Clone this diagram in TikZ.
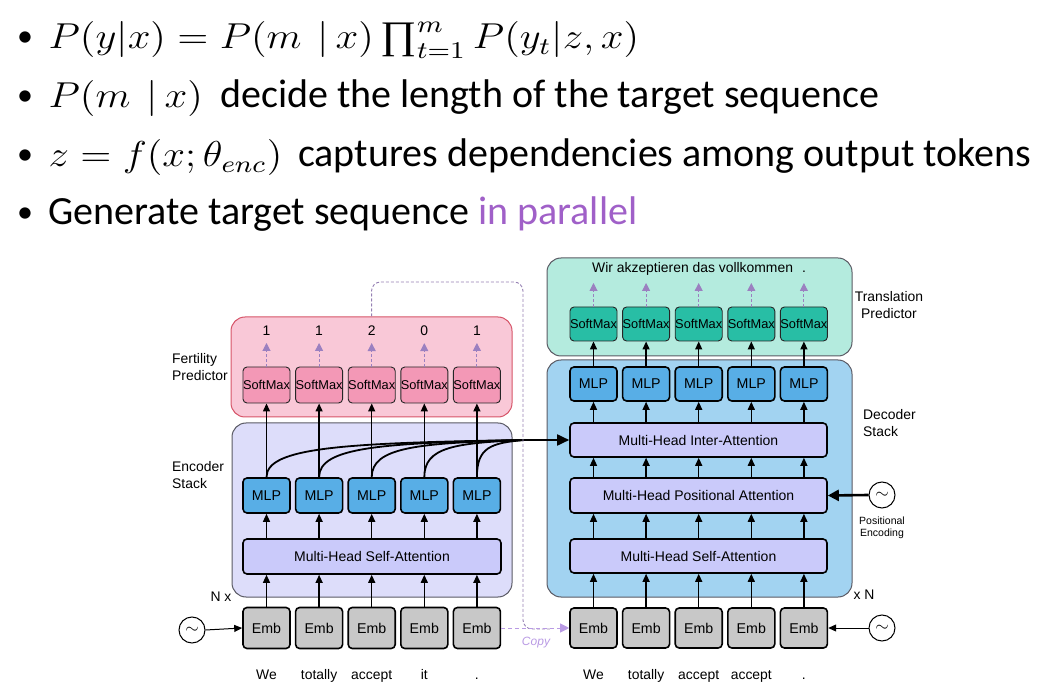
\documentclass[tikz,border=0pt]{standalone}
\usepackage{amsmath}
\usepackage{fontspec}
\setmainfont{Carlito}
\newfontfamily\diagfont{Liberation Sans}
\newfontfamily\prodfont{Liberation Serif}
\usetikzlibrary{arrows.meta,calc}
\newcommand\fsz[2][]{\fontsize{#2}{#2}\selectfont}
\newcommand\bigprod{\mathop{\text{\prodfont\fsz{13}∏}}\nolimits}
\definecolor{fertfill}{RGB}{249,200,215}
\definecolor{fertdraw}{RGB}{214,84,104}
\definecolor{smpink}{RGB}{243,152,182}
\definecolor{encfill}{RGB}{221,221,250}
\definecolor{bigdraw}{RGB}{90,90,100}
\definecolor{mlpc}{RGB}{88,174,230}
\definecolor{attnc}{RGB}{202,202,250}
\definecolor{embc}{RGB}{200,200,200}
\definecolor{transfill}{RGB}{180,235,222}
\definecolor{smteal}{RGB}{40,190,165}
\definecolor{decfill}{RGB}{162,211,241}
\definecolor{purp}{RGB}{155,128,192}
\definecolor{copyc}{RGB}{185,154,228}
\definecolor{parallel}{RGB}{160,96,200}
\tikzset{
  bx/.style={draw=black, line width=1.6pt, rounded corners=4pt, inner sep=0pt, font=\diagfont\fsz{14.2}},
  smp/.style={bx, line width=0.9pt, draw=black!85, fill=smpink, minimum width=47pt, minimum height=36pt, font=\diagfont\fsz{12.8}},
  smt/.style={smp, fill=smteal, minimum height=34pt},
  mlp/.style={bx, fill=mlpc, minimum width=47pt, minimum height=35pt},
  emb/.style={bx, fill=embc, minimum width=47pt, minimum height=41pt},
  attn/.style={bx, fill=attnc, minimum height=35pt, font=\diagfont\fsz{14}},
  big/.style={draw=bigdraw, line width=1pt, rounded corners=14pt, inner sep=0pt},
  lbl/.style={font=\diagfont\fsz{13.9}, inner sep=0pt},
  lbltwo/.style={font=\diagfont\fontsize{13.9}{16.5}\selectfont, inner sep=0pt},
  arr/.style={-{Triangle[length=8pt,width=7pt]}, line width=1.3pt},
  parr/.style={-{Triangle[length=8pt,width=8pt]}, purp, line width=1pt, dash pattern=on 3pt off 2pt},
  wave/.style={circle, draw=black, line width=1pt, minimum size=26pt, inner sep=0pt},
  curve/.style={line width=1.8pt},
  bigtext/.style={font=\fsz{40}, inner sep=0pt, anchor=base west},
  mathtext/.style={font=\fsz{12}, xscale=3.4, yscale=3, transform shape, inner sep=0pt, anchor=base west},
  bullet/.style={font=\fsz{32}, inner sep=0pt, anchor=base}
}
\begin{document}
\begin{tikzpicture}[x=1pt,y=-1pt]
\useasboundingbox (0,0) rectangle (1047,684);
% ---------- bullet text ----------
\node[bullet] (b1) at (25,47) {•};
\node[mathtext] (m1) at (48,49) {$P(y|x)=P(m\ \,|\,x)\bigprod_{t=1}^{m}P(y_t|z,x)$};
\node[bullet] (b2) at (25,106) {•};
\node[mathtext] (m2) at (48,108) {$P(m\ \,|\,x)$};
\node[bigtext] (t2) at (220,108) {decide the length of the target sequence};
\node[bullet] (b3) at (25,165) {•};
\node[mathtext] (m3) at (48,167) {$z=f(x;\theta_{enc})$};
\node[bigtext] (t3) at (298,167) {captures dependencies among output tokens};
\node[bullet] (b4) at (25,223) {•};
\node[bigtext] (t4) at (48,225) {Generate target sequence};
\node[bigtext, text=parallel] (t5) at (478,225) {in parallel};
% ---------- big boxes ----------
\node[big, fill=fertfill, draw=fertdraw, minimum width=281pt, minimum height=100pt] (fert) at (371.5,367) {};
\node[big, fill=encfill, minimum width=280pt, minimum height=174pt] (enc) at (372,510) {};
\node[big, fill=transfill, minimum width=305pt, minimum height=98pt] (trans) at (699.5,307) {};
\node[big, fill=decfill, minimum width=305pt, minimum height=237pt] (dec) at (699.5,478.5) {};
% ---------- side labels ----------
\node[lbltwo, anchor=west, align=left] (lfert) at (172,367) {Fertility\\Predictor};
\node[lbltwo, anchor=west, align=left] (lenc) at (172,475) {Encoder\\Stack};
\node[lbl] (lnx) at (221,597) {N x};
\node[lbltwo, align=center] (ltrans) at (889,305) {Translation\\Predictor};
\node[lbltwo, anchor=west, align=left] (ldec) at (863,423) {Decoder\\Stack};
\node[lbl] (lxn) at (864,595) {x N};
\node[font=\diagfont\fontsize{10.5}{12}\selectfont, inner sep=0pt, align=center] (lpos) at (882,528) {Positional\\Encoding};
% ---------- encoder ----------
\node[attn, minimum width=258pt] (esa) at (372,556.5) {Multi-Head Self-Attention};
\foreach \i/\w/\n in {1/We/1,2/totally/1,3/accept/2,4/it/0,5/./1} {
  \pgfmathsetmacro\xx{266.5+52.6*(\i-1)}
  \node[smp] (fs\i) at (\xx,385) {SoftMax};
  \node[lbl] (num\i) at (\xx,331) {\n};
  \node[mlp] (emlp\i) at (\xx,495.5) {MLP};
  \node[emb] (eemb\i) at (\xx,628) {Emb};
  \node[lbl, anchor=base] (ew\i) at (\xx,679) {\w};
}
% ---------- decoder ----------
\node[attn, minimum width=257pt, minimum height=34pt] (dia) at (698.5,440) {Multi-Head Inter-Attention};
\node[attn, minimum width=257pt] (dpa) at (698.5,495.5) {Multi-Head Positional Attention};
\node[attn, minimum width=257pt, minimum height=34pt] (dsa) at (698.5,556) {Multi-Head Self-Attention};
\node[lbl, anchor=base west] (wir) at (592,273) {Wir akzeptieren das vollkommen};
\node[lbl, anchor=base] (wdot) at (804,273) {.};
\foreach \i/\w in {1/We,2/totally,3/accept,4/accept,5/.} {
  \pgfmathsetmacro\xx{593.5+52.6*(\i-1)}
  \node[smt] (ts\i) at (\xx,324) {SoftMax};
  \coordinate (tt\i) at (\xx,283);
  \node[mlp, minimum height=34pt] (dmlp\i) at (\xx,384) {MLP};
  \node[emb, minimum height=40pt] (demb\i) at (\xx,628) {Emb};
  \node[lbl, anchor=base] (dw\i) at (\xx,679) {\w};
}
% ---------- encoder arrows ----------
\coordinate (merge) at (524,440);
\foreach \i in {1,...,5} {
  \draw[parr, shorten >=7pt] (fs\i.north) -- (num\i.south);
  \draw[arr] (eemb\i.north) -- (esa.south -| eemb\i);
  \draw[arr] (esa.north -| emlp\i) -- (emlp\i.south);
  \pgfmathsetmacro\dd{0.7*(524-(266.5+52.6*(\i-1)))}
  \draw[curve] (emlp\i.north) .. controls +(0,-30) and +(-\dd,3) .. (merge);
  \draw[arr] (emlp\i.north) -- (fs\i.south);
}
\draw[curve, -{Triangle[length=12pt,width=11pt]}] (merge) -- (dia.west);
% ---------- decoder arrows ----------
\foreach \i in {1,...,5} {
  \draw[parr] (ts\i.north) -- (tt\i);
  \draw[arr] (demb\i.north) -- (dsa.south -| demb\i);
  \draw[arr] (dsa.north -| demb\i) -- (dpa.south -| demb\i);
  \draw[arr] (dpa.north -| demb\i) -- (dia.south -| demb\i);
  \draw[arr] (dia.north -| demb\i) -- (dmlp\i.south);
  \draw[arr] (dmlp\i.north) -- (ts\i.south);
}
% ---------- positional encodings ----------
\node[wave] (c1) at (192,630) {\fsz{16}$\sim$};
\node[wave] (c2) at (882,495) {\fsz{16}$\sim$};
\node[wave] (c3) at (882,628) {\fsz{16}$\sim$};
\draw[arr, line width=1pt] (c1.east) -- (eemb1.west);
\draw[line width=2.6pt, -{Triangle[length=11pt,width=11pt]}] (c2.west) -- (dpa.east);
\draw[arr, line width=1pt] (c3.west) -- (demb5.east);
% ---------- copy & fertility dashed ----------
\coordinate (d1) at (371.5,282);
\coordinate (d2) at (523,282);
\coordinate (d3) at (523,629);
\coordinate (d4) at (550,629);
\draw[purp!80!gray, line width=0.9pt, dash pattern=on 3pt off 2pt, rounded corners=9pt] (fert.north -| num3) -- (d1) -- (d2) -- (d3) -- (d4);
\draw[copyc, line width=1pt, dash pattern=on 4pt off 3pt, -{Triangle[length=9pt,width=9pt]}] (eemb5.east) -- (demb1.west);
\node[font=\diagfont\itshape\fsz{12}, text=copyc, inner sep=0pt] (copy) at (536,643) {Copy};
\end{tikzpicture}
\end{document}
